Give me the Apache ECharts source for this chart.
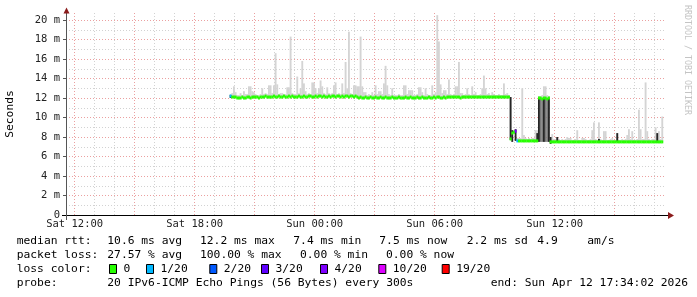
<!DOCTYPE html>
<html><head><meta charset="utf-8">
<script src="https://cdn.jsdelivr.net/npm/echarts@6/dist/echarts.min.js"></script>
<style>html,body{margin:0;padding:0;background:#fff}#c{width:697px;height:297px}</style>
</head><body><div id="c"></div>
<script>
// ---- time axis (hours since Sat 00:00) ----
const startHour = 11 + 34/60 + 2/3600;   // Sat 11:34:02
const endHour = startHour + 30;          // Sun 17:34:02
const firstStepHour = 19.75;             // first data step Sat 19:45
const stepHours = 5/60;                  // 300 s steps
const xTickHours = [12, 18, 24, 30, 36];
const xTickLabels = ['Sat 12:00', 'Sat 18:00', 'Sun 00:00', 'Sun 06:00', 'Sun 12:00'];
const yTickValues = [0, 2, 4, 6, 8, 10, 12, 14, 16, 18, 20];
const yTickLabels = ['0', '2 m', '4 m', '6 m', '8 m', '10 m', '12 m', '14 m', '16 m', '18 m', '20 m'];

// ---- median rtt per step (ms) ----
const median = [
12.2,12.1,12.1,12.1,12.0,12.0,12.0,12.1,12.0,12.0,
12.1,12.1,12.0,12.1,12.1,12.1,12.1,12.0,12.1,12.1,
12.1,12.2,12.1,12.1,12.1,12.1,12.2,12.1,12.1,12.2,
12.1,12.1,12.2,12.1,12.1,12.2,12.1,12.2,12.1,12.1,
12.1,12.2,12.1,12.1,12.2,12.1,12.1,12.2,12.2,12.1,
12.1,12.2,12.1,12.2,12.2,12.1,12.2,12.1,12.1,12.2,
12.1,12.2,12.2,12.1,12.2,12.2,12.1,12.2,12.1,12.2,
12.2,12.1,12.2,12.2,12.1,12.2,12.1,12.0,12.1,12.0,
12.0,12.1,12.0,12.0,12.1,12.0,12.0,12.1,12.0,12.0,
12.1,12.0,12.0,12.1,12.0,12.0,12.0,12.1,12.0,12.0,
12.0,12.1,12.0,12.0,12.0,12.1,12.0,12.0,12.1,12.0,
12.0,12.0,12.1,12.0,12.0,12.1,12.0,12.0,12.0,12.1,
12.0,12.0,12.1,12.0,12.1,12.1,12.0,12.0,12.1,12.0,
12.1,12.1,12.1,12.1,12.1,12.1,12.1,12.1,12.0,12.1,
12.1,12.1,12.1,12.1,12.1,12.1,12.1,12.1,12.1,12.1,
12.1,12.1,12.1,12.1,12.1,12.1,12.1,12.1,12.1,12.1,
12.1,12.1,12.1,12.1,12.1,12.1,12.1,12.1,
7.8,8.4,8.5,8.6,7.6,7.6,7.6,7.6,7.6,7.6,7.6,7.6,7.6,7.6,7.6,7.6,7.6,
12.0,12.0,11.9,12.0,12.0,11.9,12.0,
7.5,7.5,7.5,7.5,7.5,7.5,7.5,7.5,
7.5,7.5,7.5,7.5,7.5,7.5,7.5,7.5,7.5,7.5,
7.5,7.5,7.5,7.5,7.5,7.5,7.5,7.5,7.5,7.5,
7.5,7.5,7.5,7.5,7.5,7.5,7.5,7.5,7.5,7.5,
7.5,7.5,7.5,7.5,7.5,7.5,7.5,7.5,7.5,7.5,
7.5,7.5,7.5,7.5,7.5,7.5,7.5,7.5,7.5,7.5,
7.5,7.5,7.5,7.5,7.5,7.5,7.5,7.5,7.5,7.5
];

// ---- highest ping per step (ms): light smoke from median up to this ----
const smokeTop = [
12.4,12.5,13.2,12.6,12.3,12.3,12.5,12.3,12.7,12.4,
12.4,13.2,13.2,12.7,12.6,12.4,12.3,12.3,12.4,13.0,
12.4,12.5,12.4,13.3,13.3,12.5,13.3,16.6,13.4,12.4,
12.5,12.5,12.4,12.4,13.1,13.1,18.3,12.5,12.4,12.4,
14.2,12.5,13.0,15.8,13.5,12.7,12.4,12.5,12.4,13.6,
13.6,13.0,12.5,13.0,13.8,13.2,12.5,12.4,13.1,12.5,
12.4,12.5,13.3,13.6,12.4,12.5,12.4,13.5,12.5,15.7,
13.0,18.8,12.5,12.4,13.3,13.3,13.2,13.2,18.3,13.2,
12.6,12.6,12.3,12.4,12.3,12.6,12.3,13.3,12.4,12.7,
12.7,12.4,13.5,15.3,13.3,12.4,12.3,13.0,12.3,12.3,
12.3,12.4,12.3,12.3,13.3,13.3,12.4,12.8,12.8,12.8,
12.3,12.3,12.4,13.1,13.1,12.6,12.3,13.0,12.4,12.3,
12.3,13.3,12.4,12.6,20.5,17.8,13.4,12.5,12.8,12.8,
12.4,13.9,12.4,12.3,12.4,13.2,13.2,15.7,12.5,12.5,
12.3,12.4,13.0,12.4,12.3,13.2,12.4,12.6,12.3,12.3,
12.4,13.0,14.3,13.0,12.4,12.5,12.3,12.6,12.4,12.3,
12.3,12.4,12.3,12.3,13.5,12.4,12.5,12.3,
12.1,8.7,8.6,8.8,7.9,7.9,7.9,13.0,8.2,7.9,
7.8,7.9,7.8,7.9,7.9,8.7,8.7,12.2,12.2,12.3,
13.2,13.2,12.3,12.2,8.0,8.3,7.8,7.8,8.0,7.8,
7.7,7.8,7.7,7.8,8.0,7.9,7.9,7.7,7.7,7.8,
8.7,7.7,7.7,7.9,7.9,7.8,7.7,7.7,7.8,8.7,
9.5,7.8,7.7,9.5,7.8,7.7,8.6,8.6,7.7,7.7,
7.8,7.9,7.7,7.7,8.4,7.7,7.7,7.8,7.7,7.8,
8.2,8.8,7.8,8.6,7.7,7.7,7.8,10.8,8.8,7.8,
7.8,13.6,8.6,7.8,7.7,7.8,7.8,9.0,8.4,8.6,
7.8,10.1,8.7
];

// ---- dense smoke (near black): [step, low ms, high ms] ----
const denseSmoke = [
[0,12.0,12.3],[168,7.7,12.1],[169,7.5,8.7],[171,7.6,8.8],[184,7.5,8.4],
[185,7.5,12.0],[188,7.5,12.0],[191,7.5,12.0],[192,7.3,8.0],
[196,7.5,8.0],[221,7.4,7.8],[232,7.5,8.4],[256,7.4,8.4]
];
// ---- medium smoke (mid grey): [step, low ms, high ms] ----
const midSmoke = [
[186,7.5,11.9],[187,7.5,12.0],[189,7.5,12.0],[190,7.5,11.9]
];

// ---- packet loss per step (pings lost of 20), non-zero only ----
const lossSteps = [[0,1],[171,4],[172,1]];

// ---- legend ----
const lossLegendLabels = ['0','1/20','2/20','3/20','4/20','10/20','19/20'];
const lossLegendCounts = [0,1,2,3,4,10,19];
const lossLegendColors = ['#26ff00','#00b8ff','#0059ff','#5e00ff','#7e00ff','#dd00ff','#ff0000'];
const rttStats = ['10.6 ms avg','12.2 ms max','7.4 ms min','7.5 ms now','2.2 ms sd','4.9','am/s'];
const lossStats = ['27.57 % avg','100.00 % max','0.00 % min','0.00 % now'];
const probeText = '20 IPv6-ICMP Echo Pings (56 Bytes) every 300s';
const endText = 'end: Sun Apr 12 17:34:02 2026';

// ---------------- build ----------------
const MONO = 'DejaVu Sans Mono';
const lossColorOf = n => lossLegendColors[Math.max(0, lossLegendCounts.filter(c => c <= n).length - 1)];
const lossByStep = median.map(() => 0);
lossSteps.forEach(([i, n]) => { lossByStep[i] = n; });

const smokeData = smokeTop.map((v, i) => [firstStepHour + i * stepHours, median[i], v]);
const denseData = denseSmoke.map(([i, a, b]) => [firstStepHour + i * stepHours, a, b]);
const midData = midSmoke.map(([i, a, b]) => [firstStepHour + i * stepHours, a, b]);
const medData = median.map((v, i) => [firstStepHour + i * stepHours, v, lossByStep[i]]);

function bandRect(fill) {
  return (params, api) => {
    const t = api.value(0);
    const a = api.coord([t, api.value(1)]);
    const b = api.coord([t + stepHours, api.value(2)]);
    return { type: 'rect',
      shape: { x: a[0], y: Math.min(a[1], b[1]), width: b[0] - a[0] + 0.2, height: Math.abs(a[1] - b[1]) },
      style: { fill: fill } };
  };
}

const chart = echarts.init(document.getElementById('c'), null, { renderer: 'canvas' });

const graphics = [];
const txt = (x, y, s, extra) => graphics.push({ type: 'text', x: x, y: y,
  style: Object.assign({ text: s, font: '11.3px "' + MONO + '"', fill: '#000', textVerticalAlign: 'middle' }, extra || {}) });
const rowY = [241.3, 255.3, 268.8, 283.5];
txt(16.7, rowY[0], 'median rtt:');
[107.3, 200, 293.3, 379.3, 466.7, 537.3, 587.3].forEach((x, k) => txt(x, rowY[0], rttStats[k]));
txt(16.7, rowY[1], 'packet loss:');
[107.3, 200, 300, 386].forEach((x, k) => txt(x, rowY[1], lossStats[k]));
txt(16.7, rowY[2], 'loss color:');
[109, 146, 209.3, 261, 320, 378.3, 441.7].forEach((x, k) => {
  graphics.push({ type: 'rect', shape: { x: x + 0.5, y: 264.5, width: 7, height: 9 },
    style: { fill: lossLegendColors[k], stroke: '#000', lineWidth: 1 } });
  txt(x + 14.5, rowY[2], lossLegendLabels[k]);
});
txt(16.7, rowY[3], 'probe:');
txt(107.3, rowY[3], probeText);
txt(688, rowY[3], endText, { textAlign: 'right' });
// y axis title
graphics.push({ type: 'text', x: 10.5, y: 114, rotation: Math.PI / 2,
  style: { text: 'Seconds', font: '11.3px "' + MONO + '"', fill: '#000', textAlign: 'center', textVerticalAlign: 'middle' } });
// watermark
graphics.push({ type: 'text', x: 687, y: 5, rotation: -Math.PI / 2,
  style: { text: 'RRDTOOL / TOBI OETIKER', font: '8.3px "' + MONO + '"', fill: '#c4c4c4', textAlign: 'left', textVerticalAlign: 'middle' } });
// axis extensions and arrows
graphics.push({ type: 'line', shape: { x1: 62, y1: 215.5, x2: 669, y2: 215.5 }, style: { stroke: '#000', lineWidth: 1 }, z: 5 });
graphics.push({ type: 'line', shape: { x1: 66.5, y1: 12, x2: 66.5, y2: 220 }, style: { stroke: '#555', lineWidth: 1 }, z: 5 });
graphics.push({ type: 'polygon', shape: { points: [[63.5, 13.5], [69.5, 13.5], [66.5, 7.5]] }, style: { fill: '#8b1c1c' }, z: 6 });
graphics.push({ type: 'polygon', shape: { points: [[668, 212], [668, 219], [674, 215.5]] }, style: { fill: '#8b1c1c' }, z: 6 });

const gridMinor = '#d2d2d2';
const gridMajor = '#eba0a0';
const yMax = 20.72;

chart.setOption({
  animation: false,
  backgroundColor: '#fff',
  grid: { left: 66, right: 31, top: 13, bottom: 82, outerBoundsMode: 'none', containLabel: false },
  xAxis: [
    { type: 'value', position: 'bottom', offset: 0, min: startHour, max: endHour,
      splitNumber: 30, minInterval: 1, maxInterval: 1,
      axisLine: { show: false }, axisTick: { show: false }, axisLabel: { show: false },
      splitLine: { show: true, showMinLine: false, showMaxLine: false, lineStyle: { color: gridMinor, type: [1, 2], width: 1 } } },
    { type: 'value', position: 'bottom', offset: 0, min: startHour, max: endHour,
      splitNumber: 10, minInterval: 3, maxInterval: 3,
      axisLine: { show: true, lineStyle: { color: '#000', width: 1 } },
      axisTick: { show: false },
      axisLabel: { show: true, margin: 4, showMinLabel: false, showMaxLabel: false,
        fontFamily: MONO, fontSize: 10.5, color: '#222',
        formatter: v => { const k = xTickHours.findIndex(h => Math.abs(h - v) < 1e-6); return k >= 0 ? xTickLabels[k] : ''; } },
      splitLine: { show: true, showMinLine: false, showMaxLine: false, lineStyle: { color: gridMajor, type: [1, 2], width: 1 } } }
  ],
  yAxis: [
    { type: 'value', position: 'left', offset: 0, min: 0, max: yMax, interval: 1,
      axisLine: { show: false }, axisTick: { show: false }, axisLabel: { show: false },
      splitLine: { show: true, showMinLine: false, showMaxLine: false, lineStyle: { color: gridMinor, type: [1, 2], width: 1 } } },
    { type: 'value', position: 'left', offset: 0, min: 0, max: yMax, interval: 2,
      axisLine: { show: true, lineStyle: { color: '#555', width: 1 } },
      axisTick: { show: true, length: 3, lineStyle: { color: '#555' } },
      axisLabel: { show: true, margin: 6, showMaxLabel: false, fontFamily: MONO, fontSize: 10.5, color: '#222',
        formatter: v => { const k = yTickValues.findIndex(h => Math.abs(h - v) < 1e-6); return k >= 0 ? yTickLabels[k] : ''; } },
      splitLine: { show: true, showMinLine: false, showMaxLine: false, lineStyle: { color: gridMajor, type: [1, 2], width: 1 } } }
  ],
  series: [
    { type: 'custom', name: 'smoke', xAxisIndex: 1, yAxisIndex: 1, z: 2, clip: true,
      encode: { x: 0, y: [1, 2] }, data: smokeData, renderItem: bandRect('#d4d4d4') },
    { type: 'custom', name: 'mid smoke', xAxisIndex: 1, yAxisIndex: 1, z: 3, clip: true,
      encode: { x: 0, y: [1, 2] }, data: midData, renderItem: bandRect('#7a7a7a') },
    { type: 'custom', name: 'dense smoke', xAxisIndex: 1, yAxisIndex: 1, z: 3, clip: true,
      encode: { x: 0, y: [1, 2] }, data: denseData, renderItem: bandRect('#262626') },
    { type: 'custom', name: 'median', xAxisIndex: 1, yAxisIndex: 1, z: 4, clip: true,
      encode: { x: 0, y: 1 }, data: medData,
      renderItem: (params, api) => {
        const t = api.value(0);
        const a = api.coord([t, api.value(1)]);
        const b = api.coord([t + stepHours, api.value(1)]);
        return { type: 'rect', shape: { x: a[0], y: a[1] - 1.5, width: b[0] - a[0] + 0.3, height: 3 },
          style: { fill: lossColorOf(api.value(2)) } };
      } }
  ],
  graphic: graphics
});
</script>
</body></html>
